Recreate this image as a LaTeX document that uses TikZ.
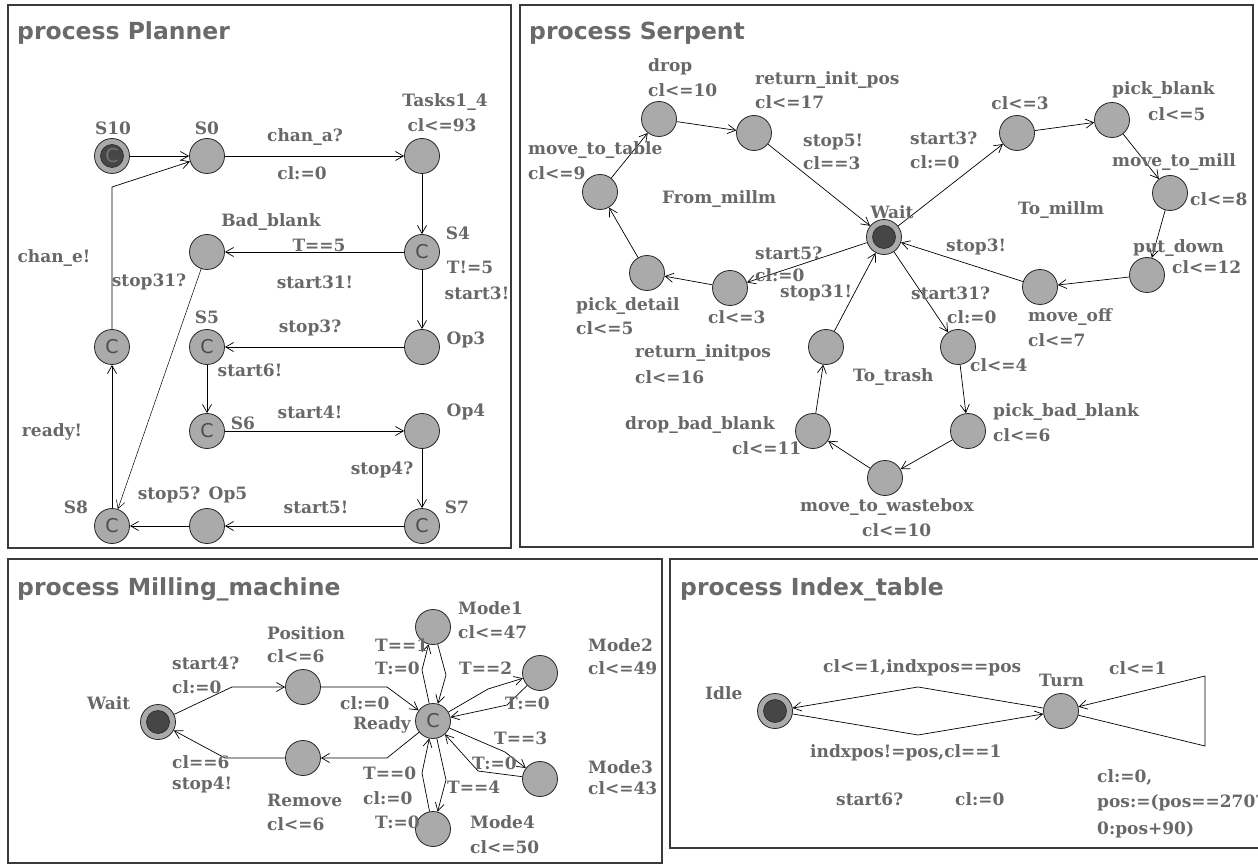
\documentclass[tikz,border=0pt]{standalone}
\usepackage{fontspec}
\setmainfont{DejaVu Serif}
\newfontfamily\ttlfont{DejaVu Sans}
\newfontfamily\cfont{DejaVu Sans}
\usetikzlibrary{arrows.meta}
\definecolor{txt}{HTML}{686868}
\definecolor{ttlc}{HTML}{6A6A6A}
\definecolor{locfill}{HTML}{AAAAAA}
\definecolor{initfill}{HTML}{464646}
\definecolor{framec}{HTML}{3A3A3A}
\tikzset{
 loc/.style={circle, draw=black!85, fill=locfill, minimum size=35pt, inner sep=0pt, line width=0.8pt},
 comm/.style={loc, font=\cfont\fontsize{19}{19}\selectfont, text=black!70},
 initloc/.style={loc, path picture={\draw[fill=initfill, line width=0.6pt] (path picture bounding box.center) circle (11.5pt);}},
 initcomm/.style={initloc, font=\cfont\fontsize{19}{19}\selectfont, text=black!55},
 lbl/.style={font=\bfseries\fontsize{17}{17}\selectfont, text=txt, inner sep=0pt},
 lw/.style={lbl, anchor=west},
 ttl/.style={font=\ttlfont\bfseries\fontsize{23.5}{24}\selectfont, text=ttlc, anchor=west, inner sep=0pt},
 arr/.style={-{Straight Barb[length=8pt,width=9pt]}, line width=0.7pt},
 panel/.style={draw=framec, line width=1.5pt},
}
\begin{document}
\begin{tikzpicture}[x=1pt,y=-1pt]
\useasboundingbox (0,0) rectangle (1258,866);
\clip (0,0) rectangle (1258,866);
\fill[white] (0,0) rectangle (1258,866);
% panels
\draw[panel] (8,5) rectangle (511,548);
\draw[panel] (520,5) rectangle (1253,547);
\draw[panel] (8,559) rectangle (662,863);
\draw[panel] (670,559) rectangle (1270,848);
\node[ttl] (tp) at (17,33) {process Planner};
\node[ttl] (ts) at (529,33) {process Serpent};
\node[ttl] (tm) at (17,589) {process Milling\_machine};
\node[ttl] (ti) at (680,589) {process Index\_table};

% ===== Planner =====
\node[initcomm] (s10) at (112,156) {C};
\node[loc] (s0) at (207,156) {};
\node[loc] (t14) at (422,156) {};
\node[comm] (s4) at (422,252) {C};
\node[loc] (bb) at (207,252) {};
\node[loc] (op3) at (422,347) {};
\node[comm] (s5) at (207,347) {C};
\node[comm] (s6) at (207,431) {C};
\node[loc] (op4) at (422,431) {};
\node[comm] (s7) at (422,526) {C};
\node[loc] (op5) at (207,526) {};
\node[comm] (s8) at (112,526) {C};
\node[comm] (pc) at (112,347) {C};
\coordinate (pk) at (112,187);
\draw[arr] (s10) -- (s0);
\draw[arr] (s0) -- (t14);
\draw[arr] (t14) -- (s4);
\draw[arr] (s4) -- (bb);
\draw[arr] (s4) -- (op3);
\draw[arr] (op3) -- (s5);
\draw[arr] (s5) -- (s6);
\draw[arr] (s6) -- (op4);
\draw[arr] (op4) -- (s7);
\draw[arr] (s7) -- (op5);
\draw[arr] (op5) -- (s8);
\draw[arr, line width=0.5pt] (bb) -- (s8);
\draw[arr] (s8) -- (pc);
\draw[arr] (pc) -- (pk) -- (s0);
\node[lbl] (ls10) at (113,128) {S10};
\node[lbl] (ls0) at (207,128) {S0};
\node[lbl] (lt14) at (445,102) {Tasks1\_4};
\node[lbl] (lt14b) at (442,125) {cl<=93};
\node[lbl] (le1) at (305,137) {chan\_a?};
\node[lbl] (le2) at (302,173) {cl:=0};
\node[lbl] (lbb) at (271,222) {Bad\_blank};
\node[lbl] (ls4) at (458,233) {S4};
\node[lbl] (le3) at (319,245) {T==5};
\node[lbl] (le4) at (315,282) {start31!};
\node[lbl] (le5) at (470,267) {T!=5};
\node[lbl] (le6) at (477,293) {start3!};
\node[lbl] (le7) at (54,258) {chan\_e!};
\node[lbl] (le8) at (149,282) {stop31?};
\node[lbl] (ls5) at (207,317) {S5};
\node[lbl] (le9) at (310,328) {stop3?};
\node[lbl] (lop3) at (466,340) {Op3};
\node[lbl] (le10) at (250,370) {start6!};
\node[lbl] (le11) at (310,412) {start4!};
\node[lbl] (lop4) at (466,412) {Op4};
\node[lbl] (ls6) at (243,423) {S6};
\node[lbl] (le12) at (52,432) {ready!};
\node[lbl] (le13) at (382,470) {stop4?};
\node[lbl] (ls8) at (76,507) {S8};
\node[lbl] (le14) at (169,495) {stop5?};
\node[lbl] (lop5) at (228,495) {Op5};
\node[lbl] (le15) at (316,507) {start5!};
\node[lbl] (ls7) at (457,507) {S7};

% ===== Serpent =====
\node[initloc] (sw) at (884,237) {};
\node[loc] (drop) at (659,119) {};
\node[loc] (rip) at (754,133) {};
\node[loc] (mtt) at (600,192) {};
\node[loc] (pd) at (647,273) {};
\node[loc] (c3b) at (730,288) {};
\node[loc] (c3t) at (1017,133) {};
\node[loc] (pb) at (1112,120) {};
\node[loc] (mtm) at (1170,193) {};
\node[loc] (pdn) at (1147,275) {};
\node[loc] (mo) at (1040,287) {};
\node[loc] (s31) at (958,347) {};
\node[loc] (pbb) at (968,431) {};
\node[loc] (mtw) at (885,478) {};
\node[loc] (dbb) at (813,431) {};
\node[loc] (tt) at (826,347) {};
\draw[arr] (mtt) -- (drop);
\draw[arr] (drop) -- (rip);
\draw[arr] (rip) -- (sw);
\draw[arr] (sw) -- (c3t);
\draw[arr] (c3t) -- (pb);
\draw[arr] (pb) -- (mtm);
\draw[arr] (mtm) -- (pdn);
\draw[arr] (pdn) -- (mo);
\draw[arr] (mo) -- (sw);
\draw[arr] (sw) -- (c3b);
\draw[arr] (c3b) -- (pd);
\draw[arr] (pd) -- (mtt);
\draw[arr] (sw) -- (s31);
\draw[arr] (s31) -- (pbb);
\draw[arr] (pbb) -- (mtw);
\draw[arr] (mtw) -- (dbb);
\draw[arr] (dbb) -- (tt);
\draw[arr] (tt) -- (sw);
\node[lw] (sl1) at (648,67) {drop};
\node[lw] (sl2) at (648,90) {cl<=10};
\node[lw] (sl3) at (755,80) {return\_init\_pos};
\node[lw] (sl4) at (755,102) {cl<=17};
\node[lw] (sl5) at (803,142) {stop5!};
\node[lw] (sl6) at (803,163) {cl==3};
\node[lw] (sl7) at (528,150) {move\_to\_table};
\node[lw] (sl8) at (528,173) {cl<=9};
\node[lw] (sl9) at (662,199) {From\_millm};
\node[lbl] (sl10) at (892,212) {Wait};
\node[lw] (sl11) at (755,253) {start5?};
\node[lw] (sl12) at (755,275) {cl:=0};
\node[lw] (sl13) at (910,138) {start3?};
\node[lw] (sl14) at (910,162) {cl:=0};
\node[lbl] (sl15) at (1020,103) {cl<=3};
\node[lw] (sl16) at (1112,90) {pick\_blank};
\node[lw] (sl17) at (1148,114) {cl<=5};
\node[lw] (sl18) at (1112,162) {move\_to\_mill};
\node[lw] (sl19) at (1190,199) {cl<=8};
\node[lw] (sl20) at (1018,210) {To\_millm};
\node[lw] (sl21) at (946,247) {stop3!};
\node[lw] (sl22) at (1133,248) {put\_down};
\node[lw] (sl23) at (1172,267) {cl<=12};
\node[lw] (sl24) at (1028,317) {move\_off};
\node[lw] (sl25) at (1028,340) {cl<=7};
\node[lw] (sl26) at (911,293) {start31?};
\node[lw] (sl27) at (947,317) {cl:=0};
\node[lw] (sl28) at (970,365) {cl<=4};
\node[lw] (sl29) at (853,377) {To\_trash};
\node[lw] (sl30) at (993,412) {pick\_bad\_blank};
\node[lw] (sl31) at (993,435) {cl<=6};
\node[lw] (sl32) at (800,507) {move\_to\_wastebox};
\node[lw] (sl33) at (862,530) {cl<=10};
\node[lw] (sl34) at (780,293) {stop31!};
\node[lw] (sl35) at (576,306) {pick\_detail};
\node[lw] (sl36) at (576,328) {cl<=5};
\node[lw] (sl37) at (708,317) {cl<=3};
\node[lw] (sl38) at (635,353) {return\_initpos};
\node[lw] (sl39) at (635,377) {cl<=16};
\node[lw] (sl40) at (625,425) {drop\_bad\_blank};
\node[lw] (sl41) at (732,448) {cl<=11};

% ===== Milling machine =====
\node[initloc] (mw) at (158,722) {};
\node[loc] (pos) at (303,687) {};
\node[loc] (rem) at (303,758) {};
\node[comm] (rdy) at (433,721) {C};
\node[loc] (m1) at (433,627) {};
\node[loc] (m2) at (540,673) {};
\node[loc] (m3) at (540,779) {};
\node[loc] (m4) at (433,829) {};
\coordinate (k1) at (232,687);
\coordinate (k2) at (387,687);
\coordinate (k3) at (387,758);
\coordinate (k4) at (225,758);
\coordinate (k5) at (422,670);
\coordinate (k6) at (446,675);
\coordinate (k7) at (488,689);
\coordinate (k8) at (507,705);
\coordinate (k9) at (505,752);
\coordinate (k10) at (478,771);
\coordinate (k11) at (446,780);
\coordinate (k12) at (422,773);
\draw[arr] (mw) -- (k1) -- (pos);
\draw[arr] (pos) -- (k2) -- (rdy);
\draw[arr] (rdy) -- (k3) -- (rem);
\draw[arr] (rem) -- (k4) -- (mw);
\draw[arr] (rdy) -- (k5) -- (m1);
\draw[arr] (m1) -- (k6) -- (rdy);
\draw[arr] (rdy) -- (k7) -- (m2);
\draw[arr] (m2) -- (k8) -- (rdy);
\draw[arr] (rdy) -- (k9) -- (m3);
\draw[arr] (m3) -- (k10) -- (rdy);
\draw[arr] (rdy) -- (k11) -- (m4);
\draw[arr] (m4) -- (k12) -- (rdy);
\node[lw] (ml1) at (87,703) {Wait};
\node[lw] (ml2) at (172,663) {start4?};
\node[lw] (ml3) at (172,687) {cl:=0};
\node[lw] (ml4) at (267,633) {Position};
\node[lw] (ml5) at (267,656) {cl<=6};
\node[lw] (ml6) at (340,703) {cl:=0};
\node[lbl, anchor=east] (ml7) at (411,725) {Ready};
\node[lw] (ml8) at (172,762) {cl==6};
\node[lw] (ml9) at (172,785) {stop4!};
\node[lw] (ml10) at (267,800) {Remove};
\node[lw] (ml11) at (267,824) {cl<=6};
\node[lw] (ml12) at (458,608) {Mode1};
\node[lw] (ml13) at (458,632) {cl<=47};
\node[lw] (ml14) at (375,645) {T==1};
\node[lw] (ml15) at (375,668) {T:=0};
\node[lw] (ml16) at (459,668) {T==2};
\node[lw] (ml17) at (505,703) {T:=0};
\node[lw] (ml18) at (588,645) {Mode2};
\node[lw] (ml19) at (588,668) {cl<=49};
\node[lw] (ml20) at (494,738) {T==3};
\node[lw] (ml21) at (472,763) {T:=0};
\node[lw] (ml22) at (588,767) {Mode3};
\node[lw] (ml23) at (588,788) {cl<=43};
\node[lw] (ml24) at (447,787) {T==4};
\node[lw] (ml25) at (363,773) {T==0};
\node[lw] (ml26) at (363,798) {cl:=0};
\node[lw] (ml27) at (375,822) {T:=0};
\node[lw] (ml28) at (470,822) {Mode4};
\node[lw] (ml29) at (470,847) {cl<=50};

% ===== Index table =====
\node[initloc] (idle) at (775,711) {};
\node[loc] (turn) at (1061,711) {};
\coordinate (j1) at (918,687);
\coordinate (j2) at (918,735);
\coordinate (j3) at (1205,746);
\coordinate (j4) at (1205,676);
\draw[arr] (turn) -- (j1) -- (idle);
\draw[arr] (idle) -- (j2) -- (turn);
\draw[arr] (turn) -- (j3) -- (j4) -- (turn);
\node[lw] (il1) at (705,693) {Idle};
\node[lw] (il2) at (823,668) {cl<=1,indxpos==pos};
\node[lw] (il3) at (810,753) {indxpos!=pos,cl==1};
\node[lw] (il4) at (836,799) {start6?};
\node[lw] (il5) at (955,799) {cl:=0};
\node[lw] (il6) at (1039,680) {Turn};
\node[lw] (il7) at (1109,668) {cl<=1};
\node[lw] (il8) at (1097,777) {cl:=0,};
\node[lw] (il9) at (1097,803) {pos:=(pos==270?};
\node[lw] (il10) at (1097,830) {0:pos+90)};
\end{tikzpicture}
\end{document}
